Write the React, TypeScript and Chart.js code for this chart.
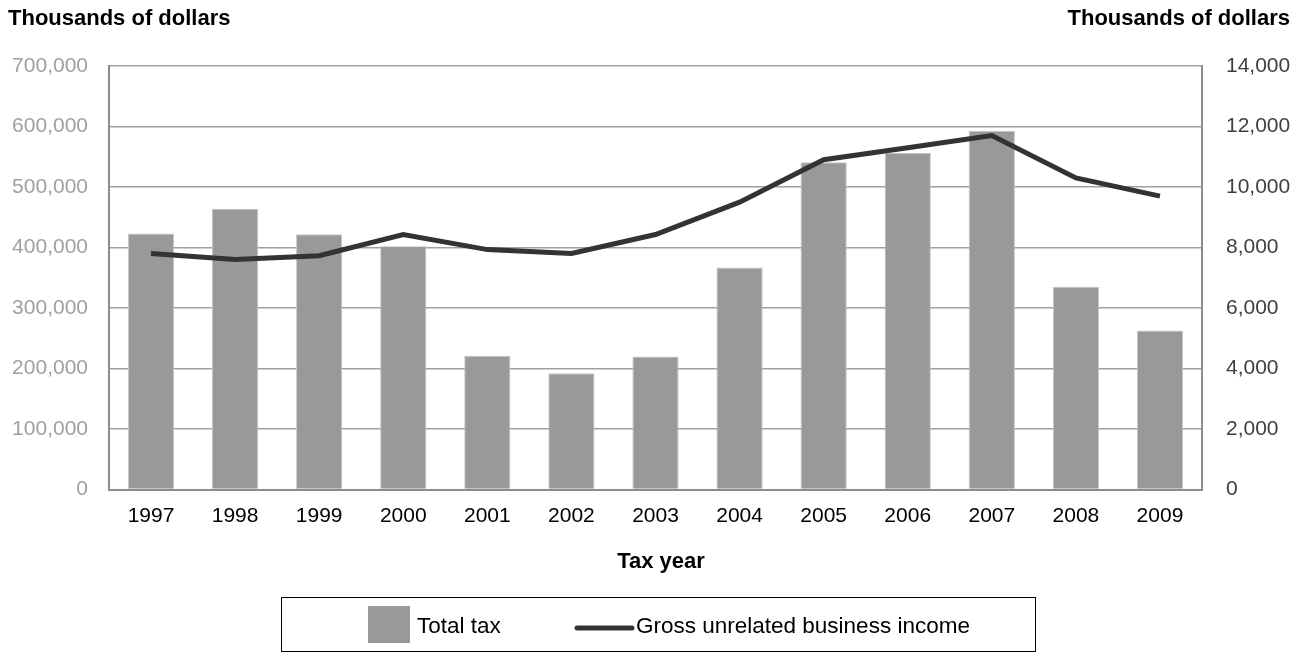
import React, { useEffect, useRef } from "react";
import { Chart, registerables } from "chart.js";

Chart.register(...registerables);

const years = ["1997", "1998", "1999", "2000", "2001", "2002", "2003", "2004", "2005", "2006", "2007", "2008", "2009"];
const totalTax = [423000, 464000, 422000, 402000, 221000, 192000, 220000, 367000, 541000, 556000, 593000, 335000, 263000];
const grossIncome = [7800, 7600, 7730, 8430, 7930, 7800, 8430, 9500, 10900, 11300, 11700, 10300, 9700];
const seriesNames = ["Total tax", "Gross unrelated business income"];
const leftAxisTitle = "Thousands of dollars";
const rightAxisTitle = "Thousands of dollars";
const xAxisTitle = "Tax year";

const FONT = "'Liberation Sans', Arial, sans-serif";

const overlayPlugin = {
  id: "overlay",
  afterDraw(chart: any) {
    const ctx = chart.ctx;
    ctx.save();
    ctx.fillStyle = "#000";
    ctx.font = `bold 22px ${FONT}`;
    ctx.textBaseline = "middle";
    ctx.textAlign = "left";
    ctx.fillText(leftAxisTitle, 8, 19);
    ctx.textAlign = "right";
    ctx.fillText(rightAxisTitle, 1290, 19);
    ctx.textAlign = "center";
    ctx.fillText(xAxisTitle, 661, 562);

    // legend box
    ctx.strokeStyle = "#000";
    ctx.lineWidth = 1;
    ctx.strokeRect(281.5, 597.5, 754, 54);
    const ds = chart.data.datasets;
    ctx.font = `22.5px ${FONT}`;
    ctx.textAlign = "left";
    ctx.fillStyle = ds[0].backgroundColor;
    ctx.fillRect(368, 606, 42, 37);
    ctx.fillStyle = "#000";
    ctx.fillText(ds[0].label, 417, 627);
    ctx.strokeStyle = ds[1].borderColor;
    ctx.lineWidth = 5;
    ctx.lineCap = "round";
    ctx.beginPath();
    ctx.moveTo(577, 628);
    ctx.lineTo(632, 628);
    ctx.stroke();
    ctx.fillStyle = "#000";
    ctx.fillText(ds[1].label, 636, 627);
    ctx.restore();
  },
};

export default function App() {
  const ref = useRef<HTMLCanvasElement>(null);
  useEffect(() => {
    document.body.style.margin = "0";
    const chart = new Chart(ref.current as HTMLCanvasElement, {
      type: "bar",
      data: {
        labels: years,
        datasets: [
          {
            type: "bar",
            label: seriesNames[0],
            data: totalTax,
            backgroundColor: "#999999",
            borderColor: "#c4c4c4",
            borderWidth: { left: 1, right: 1, top: 1, bottom: 0 },
            barPercentage: 0.55,
            categoryPercentage: 1,
            yAxisID: "y",
            order: 1,
          },
          {
            type: "line",
            label: seriesNames[1],
            data: grossIncome,
            borderColor: "#333333",
            backgroundColor: "#333333",
            borderWidth: 5,
            pointRadius: 0,
            tension: 0,
            yAxisID: "y1",
            order: 0,
          },
        ],
      } as any,
      options: {
        animation: false,
        responsive: false,
        maintainAspectRatio: false,
        layout: { padding: { top: 66, left: 0, right: 0, bottom: 0 } },
        plugins: { legend: { display: false }, tooltip: { enabled: false } },
        scales: {
          x: {
            offset: true,
            grid: { display: false, drawTicks: false },
            border: { display: true, color: "#8c8c8c", width: 2 },
            ticks: { color: "#000", font: { family: FONT, size: 21 }, padding: 14, maxRotation: 0 },
            afterFit(scale: any) {
              scale.height = 162.5;
            },
          },
          y: {
            position: "left",
            min: 0,
            max: 700000,
            grid: { color: "#a0a0a0", lineWidth: 1.5, drawTicks: false },
            border: { display: true, color: "#8c8c8c", width: 2 },
            ticks: {
              stepSize: 100000,
              color: "#a0a0a0",
              font: { family: FONT, size: 21 },
              padding: 21,
              callback: (v: any) => Number(v).toLocaleString("en-US"),
            },
            afterFit(scale: any) {
              scale.width = 109;
            },
          },
          y1: {
            position: "right",
            min: 0,
            max: 14000,
            grid: { drawOnChartArea: false, drawTicks: false },
            border: { display: true, color: "#8c8c8c", width: 2 },
            ticks: {
              stepSize: 2000,
              color: "#404040",
              font: { family: FONT, size: 21 },
              padding: 24,
              callback: (v: any) => Number(v).toLocaleString("en-US"),
            },
            afterFit(scale: any) {
              scale.width = 101;
            },
          },
        },
      } as any,
      plugins: [overlayPlugin],
    });
    return () => chart.destroy();
  }, []);
  return (
    <div style={{ position: "fixed", left: 0, top: 0, width: 1303, height: 652, background: "#fff" }}>
      <canvas ref={ref} width={1303} height={652} style={{ width: 1303, height: 652 }} />
    </div>
  );
}
